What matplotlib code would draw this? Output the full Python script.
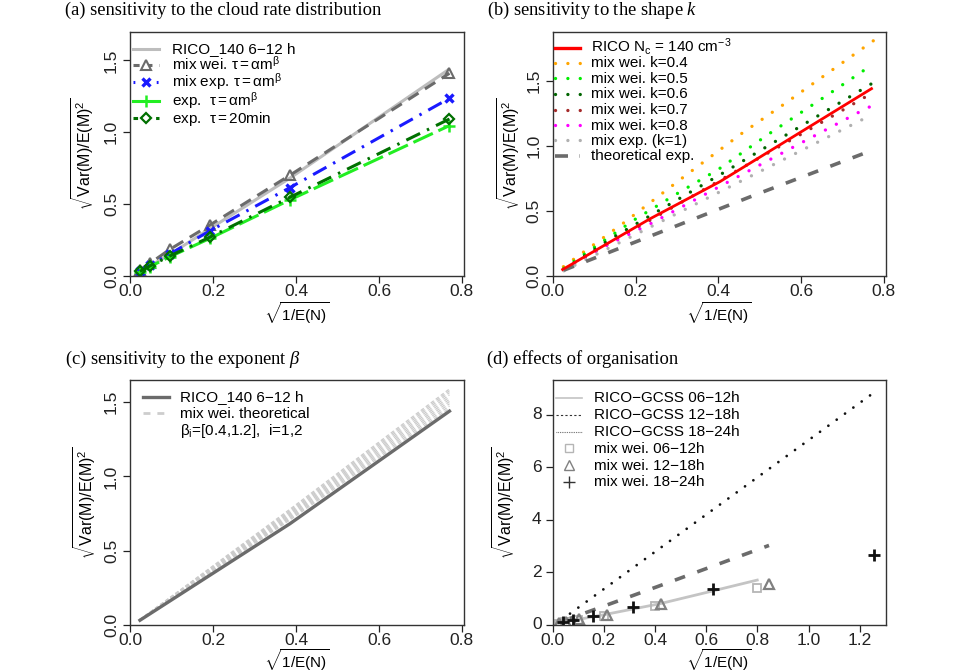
import matplotlib
matplotlib.use("Agg")
import matplotlib.pyplot as plt
from matplotlib.lines import Line2D

plt.rcParams['font.family'] = ['Liberation Sans', 'DejaVu Sans']
plt.rcParams['mathtext.fontset'] = 'custom'
plt.rcParams['mathtext.rm'] = 'Liberation Sans'
plt.rcParams['mathtext.it'] = 'Liberation Serif:italic'
plt.rcParams['mathtext.bf'] = 'Liberation Sans:bold'

# ---------------- data ----------------
# (a) sensitivity to the cloud rate distribution
a_x = [0.024, 0.048, 0.096, 0.193, 0.385, 0.77]
a_rico = [0.03, 0.07, 0.15, 0.33, 0.68, 1.44]
a_mixwei = [0.042, 0.088, 0.185, 0.355, 0.70, 1.41]
a_mixexp = [0.037, 0.077, 0.153, 0.315, 0.614, 1.236]
a_exp = [0.030, 0.065, 0.134, 0.262, 0.529, 1.046]
a_exp20 = [0.032, 0.070, 0.139, 0.271, 0.547, 1.092]

# (b) sensitivity to the shape k
b_rico_x = [0.024, 0.235, 0.404, 0.77]
b_rico_y = [0.05, 0.44, 0.726, 1.441]
b_k04_x = [0.026, 0.17, 0.315, 0.458, 0.557, 0.703, 0.776]
b_k04_y = [0.072, 0.405, 0.759, 1.10, 1.318, 1.648, 1.813]
b_k05_x = [0.027, 0.199, 0.299, 0.40, 0.524, 0.674, 0.773]
b_k05_y = [0.06, 0.436, 0.631, 0.82, 1.097, 1.415, 1.628]
b_k06_x = [0.027, 0.142, 0.41, 0.616, 0.77]
b_k06_y = [0.05, 0.29, 0.79, 1.185, 1.479]
b_k07_x = [0.027, 0.459, 0.615, 0.77]
b_k07_y = [0.05, 0.836, 1.118, 1.405]
b_k08_x = [0.026, 0.114, 0.235, 0.425, 0.583, 0.742, 0.77]
b_k08_y = [0.05, 0.21, 0.40, 0.726, 0.995, 1.264, 1.308]
b_k1_x = [0.027, 0.422, 0.768]
b_k1_y = [0.04, 0.677, 1.236]
b_theo_x = [0.027, 0.484, 0.773]
b_theo_y = [0.045, 0.618, 0.969]

# (c) sensitivity to the exponent beta
c_x = [0.024, 0.385, 0.77]
c_rico = [0.03, 0.68, 1.44]
c_theo_start = [0.035, 0.035, 0.035, 0.035, 0.035, 0.035, 0.035, 0.035, 0.035, 0.035]
c_theo_mid = [0.705, 0.713, 0.721, 0.729, 0.737, 0.745, 0.753, 0.761, 0.769, 0.778]
c_theo_end = [1.46, 1.475, 1.49, 1.505, 1.52, 1.535, 1.55, 1.565, 1.578, 1.59]

# (d) effects of organisation
d_l1_x = [0.022, 0.2, 0.419, 0.631, 0.799]
d_l1_y = [0.06, 0.38, 0.80, 1.30, 1.70]
d_l2_x = [0.04, 0.406, 0.845]
d_l2_y = [0.14, 1.44, 3.02]
d_l3_x = [0.035, 1.256]
d_l3_y = [0.19, 8.85]
d_sq_x = [0.025, 0.05, 0.1, 0.2, 0.4, 0.8]
d_sq_y = [0.045, 0.09, 0.18, 0.35, 0.70, 1.40]
d_tri_x = [0.026, 0.052, 0.104, 0.211, 0.423, 0.845]
d_tri_y = [0.05, 0.10, 0.23, 0.38, 0.80, 1.55]
d_plus_x = [0.039, 0.0785, 0.157, 0.314, 0.628, 1.256]
d_plus_y = [0.09, 0.17, 0.33, 0.67, 1.345, 2.67]

# ---------------- figure ----------------
W, H = 960, 672
fig = plt.figure(figsize=(W / 100, H / 100), dpi=100)


def add_ax(l, r, t, b):
    return fig.add_axes([l / W, 1 - b / H, (r - l) / W, (b - t) / H])


axA = add_ax(130, 464, 32, 276)
axB = add_ax(552.7, 886, 32, 276)
axC = add_ax(130, 464, 380.3, 624.7)
axD = add_ax(552.7, 886, 380.3, 624.7)

TICK_FS = 12.5
LAB_FS = 10
LEG_FS = 11
DARKGREY = '#6b6b6b'
LIGHTGREY = '#bdbdbd'

xlab = r'$\sqrt{\mathrm{1/E(N)}}$'
ylab = r'$\sqrt{\mathrm{Var(M)/E(M)^2}}$'


def style(ax, xlim, ylim, xt, yt, xfmt, yfmt, ylab_x, xlab_center_px, yrot=90):
    ax.set_xlim(*xlim)
    ax.set_ylim(*ylim)
    ax.set_xticks(xt)
    ax.set_xticklabels([xfmt.format(v) for v in xt], fontsize=TICK_FS)
    ax.set_yticks(yt)
    ax.set_yticklabels([yfmt.format(v) for v in yt], fontsize=TICK_FS,
                       rotation=yrot, va='center')
    ax.tick_params(direction='out', length=5, width=0.9, colors='#222222', pad=1)
    ax.tick_params(axis='y', pad=3)
    for s in ax.spines.values():
        s.set_linewidth(1.0)
        s.set_color('#333333')
    ax.set_xlabel(xlab, fontsize=LAB_FS + 1)
    ax.set_ylabel(ylab, fontsize=LAB_FS + 1.5)
    h_ax = ax.get_position().height * H
    ax.xaxis.set_label_coords(0.5, -xlab_center_px / h_ax)
    ax.yaxis.set_label_coords(ylab_x, 0.5)
    ax.xaxis.label.set_va('center')
    ax.yaxis.label.set_va('center')


def manual_legend(rows, x0, x1, xt, fs=LEG_FS):
    """rows: list of (y_center_px, line_kw or None, marker_kw or None, label)."""
    for yc, lkw, mkw, label in rows:
        yf = 1 - yc / H
        if lkw is not None:
            fig.add_artist(Line2D([x0 / W, x1 / W], [yf, yf], transform=fig.transFigure, **lkw))
        if mkw is not None:
            fig.add_artist(Line2D([(x0 + x1) / 2 / W], [yf], transform=fig.transFigure,
                                  ls='none', **mkw))
        fig.text(xt / W, 1 - (yc + 4.5) / H, label, fontsize=fs, va='baseline', ha='left')


# ---- (a) ----
axA.plot(a_x, a_rico, color=LIGHTGREY, lw=2.2, solid_capstyle='butt')
axA.plot(a_x, a_mixwei, color=DARKGREY, lw=2.2, ls=(0, (4, 2.5)),
         marker='^', mfc='none', mec=DARKGREY, ms=6.5, mew=1.5)
axA.plot(a_x, a_mixexp, color='#1a1aff', lw=2.2, ls=(0, (5, 2.5, 0.8, 2.5)),
         marker='x', mec='#1a1aff', ms=6, mew=2.4)
axA.plot(a_x, a_exp, color='#22ee22', lw=2.2, ls=(0, (7, 2)),
         marker='+', mec='#22ee22', ms=8, mew=1.8)
axA.plot(a_x, a_exp20, color='#007000', lw=2.2, ls=(0, (5, 2.5, 0.8, 2.5)),
         marker='D', mfc='none', mec='#007000', ms=5, mew=1.6)
style(axA, (0, 0.805), (0, 1.697), [0, 0.2, 0.4, 0.6, 0.8], [0, 0.5, 1.0, 1.5],
      '{:.1f}', '{:.1f}', -0.141, 37)
manual_legend([
    (49, dict(color=LIGHTGREY, lw=2.2), None, 'RICO_140 6\u221212 h'),
    (65, dict(color=DARKGREY, lw=2.2, ls=(0, (2, 2.2))),
     dict(marker='^', mfc='white', mec=DARKGREY, ms=6.5, mew=1.5),
     r'mix wei. $\mathrm{\tau = \alpha m^{\beta}}$'),
    (81.7, dict(color='#1a1aff', lw=2.2, ls=(0, (0.6, 3.2))),
     dict(marker='x', mec='#1a1aff', ms=6, mew=2.4),
     r'mix exp. $\mathrm{\tau = \alpha m^{\beta}}$'),
    (100.7, dict(color='#22ee22', lw=2.2),
     dict(marker='+', mec='#22ee22', ms=8, mew=1.8),
     r'exp.  $\mathrm{\tau = \alpha m^{\beta}}$'),
    (118.3, dict(color='#007000', lw=2.2, ls=(0, (1.5, 2.2))),
     dict(marker='D', mfc='white', mec='#007000', ms=5, mew=1.6),
     r'exp.  $\mathrm{\tau = 20min}$'),
], 133.3, 159.3, 172)

# ---- (b) ----
DOT = dict(lw=2.4, dash_capstyle='round', ls=(0, (0.01, 3.7)))
axB.plot(b_k04_x, b_k04_y, color='#ffa500', **DOT)
axB.plot(b_k05_x, b_k05_y, color='#00ee00', **DOT)
axB.plot(b_k06_x, b_k06_y, color='#006400', **DOT)
axB.plot(b_k07_x, b_k07_y, color='#a52a2a', **DOT)
axB.plot(b_k08_x, b_k08_y, color='#ff00ff', **DOT)
axB.plot(b_k1_x, b_k1_y, color='#b0b0b0', **DOT)
axB.plot(b_theo_x, b_theo_y, color=DARKGREY, lw=2.6, ls=(0, (3, 3.6)))
axB.plot(b_rico_x, b_rico_y, color='#ff0000', lw=2.0)
style(axB, (0, 0.805), (0, 1.877), [0, 0.2, 0.4, 0.6, 0.8], [0, 0.5, 1.0, 1.5],
      '{:.1f}', '{:.1f}', -0.133, 37)
manual_legend([
    (47.5, dict(color='#ff0000', lw=2.4), None, r'RICO $\mathrm{N_c}$ = 140 $\mathrm{cm^{-3}}$'),
    (62.7, dict(color='#ffa500', **DOT), None, 'mix wei. k=0.4'),
    (78.3, dict(color='#00ee00', **DOT), None, 'mix wei. k=0.5'),
    (94.0, dict(color='#006400', **DOT), None, 'mix wei. k=0.6'),
    (109.5, dict(color='#a52a2a', **DOT), None, 'mix wei. k=0.7'),
    (125.0, dict(color='#ff00ff', **DOT), None, 'mix wei. k=0.8'),
    (140.3, dict(color='#b0b0b0', **DOT), None, 'mix exp. (k=1)'),
    (155.5, dict(color=DARKGREY, lw=2.6, ls=(0, (3.6, 3.2))), None, 'theoretical exp.'),
], 555, 580, 591)

# ---- (c) ----
for s0, m0, e0 in zip(c_theo_start, c_theo_mid, c_theo_end):
    axC.plot(c_x, [s0, m0, e0], color='#cbcbcb', lw=0.9, ls=(0, (3, 2)))
axC.plot(c_x, c_rico, color=DARKGREY, lw=2.4)
style(axC, (0, 0.805), (0, 1.648), [0, 0.2, 0.4, 0.6, 0.8], [0, 0.5, 1.0, 1.5],
      '{:.1f}', '{:.1f}', -0.135, 35.5)
manual_legend([
    (396.7, dict(color=DARKGREY, lw=2.4), None, 'RICO_140 6\u221212 h'),
    (413.3, dict(color='#cdcdcd', lw=2.0, ls=(0, (2.5, 2.5))), None, 'mix wei. theoretical'),
    (430.0, None, None, r'$\mathrm{\beta_i}$=[0.4,1.2],  i=1,2'),
], 143.3, 169.3, 180)

# ---- (d) ----
axD.plot(d_l3_x, d_l3_y, color='#111111', lw=2.0, dash_capstyle='round', ls=(0, (0.01, 3.7)))
axD.plot(d_l2_x, d_l2_y, color=DARKGREY, lw=2.6, ls=(0, (3, 3.6)))
axD.plot(d_l1_x, d_l1_y, color='#c4c4c4', lw=2.0)
axD.plot(d_sq_x, d_sq_y, ls='none', marker='s', mfc='none', mec='#b5b5b5', ms=5.5, mew=1.3)
axD.plot(d_tri_x, d_tri_y, ls='none', marker='^', mfc='none', mec='#808080', ms=6.5, mew=1.6)
axD.plot(d_plus_x, d_plus_y, ls='none', marker='+', mec='#111111', ms=9, mew=2.0)
style(axD, (0, 1.302), (0, 9.31), [0, 0.2, 0.4, 0.6, 0.8, 1.0, 1.2], [0, 2, 4, 6, 8],
      '{:.1f}', '{:d}', -0.149, 35.5, yrot=0)
for t in axD.get_yticklabels():
    t.set_ha('right')
manual_legend([
    (397.7, dict(color='#c4c4c4', lw=1.2), None, 'RICO\u2212GCSS 06\u221212h'),
    (414.8, dict(color='#333333', lw=0.8, ls=(0, (2, 2))), None, 'RICO\u2212GCSS 12\u221218h'),
    (431.5, dict(color='#555555', lw=0.8, ls=(0, (0.7, 0.9))), None, 'RICO\u2212GCSS 18\u221224h'),
    (448.3, None, dict(marker='s', mfc='none', mec='#b5b5b5', ms=5.5, mew=1.0), 'mix wei. 06\u221212h'),
    (465.0, None, dict(marker='^', mfc='none', mec='#808080', ms=6.5, mew=1.0), 'mix wei. 12\u221218h'),
    (481.7, None, dict(marker='+', mec='#333333', ms=9, mew=1.0), 'mix wei. 18\u221224h'),
], 556, 581.7, 594)

# ---- titles ----
TFS = 13.3
fig.text(65 / W, 1 - 10 / H, '(a) sensitivity to the cloud rate distribution',
         family='Liberation Serif', fontsize=TFS, va='center', ha='left')
fig.text(487 / W, 1 - 10 / H, '(b) sensitivity to the shape $k$',
         family='Liberation Serif', fontsize=TFS, va='center', ha='left')
fig.text(65 / W, 1 - 359.5 / H, r'(c) sensitivity to the exponent $\beta$',
         family='Liberation Serif', fontsize=TFS, va='center', ha='left')
fig.text(487 / W, 1 - 359 / H, '(d) effects of organisation',
         family='Liberation Serif', fontsize=TFS, va='center', ha='left')

fig.savefig('out.png', dpi=100)
